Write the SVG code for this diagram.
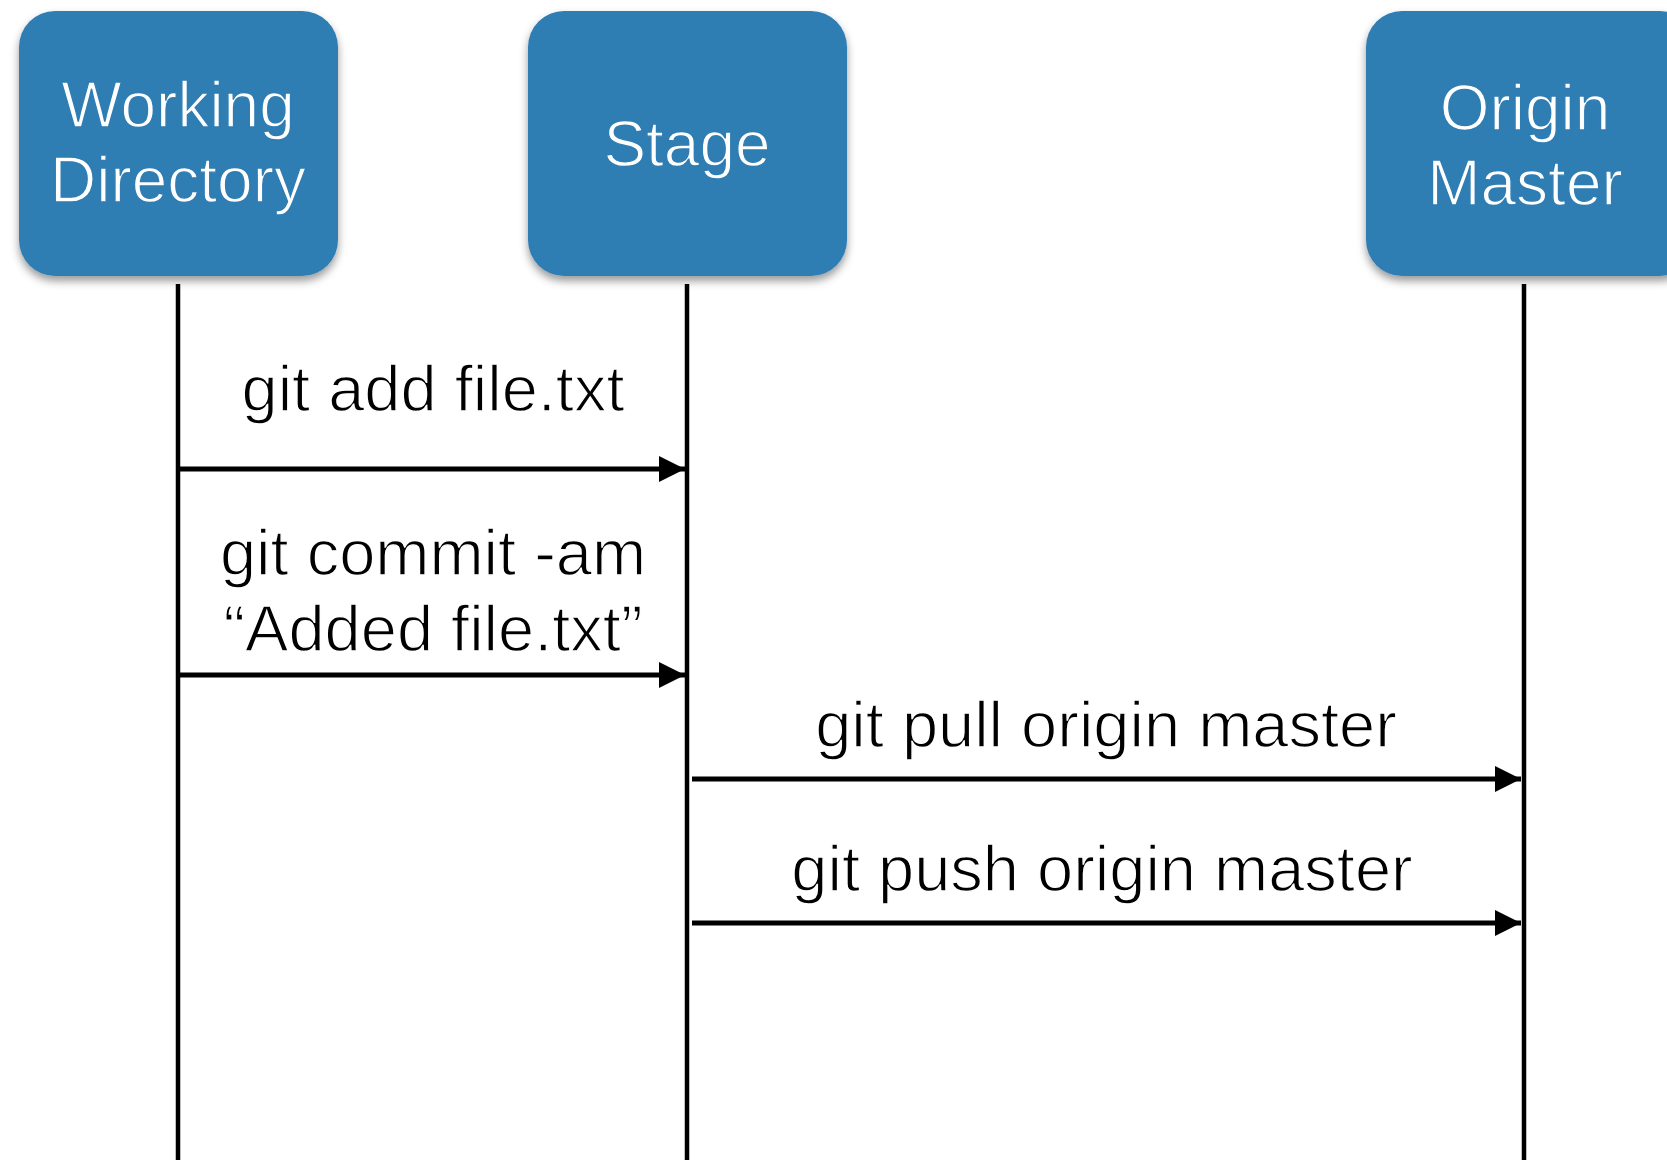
<svg xmlns="http://www.w3.org/2000/svg" width="1667" height="1160" viewBox="0 0 1667 1160">
<style>
.box{fill:#2f7db3;}
.bt{font-family:"Liberation Sans",Arial,sans-serif;font-size:64px;fill:#ffffff;text-anchor:middle;stroke:#2f7db3;stroke-width:1.4px;}
.lt{font-family:"Liberation Sans",Arial,sans-serif;font-size:65px;fill:#000000;text-anchor:middle;stroke:#ffffff;stroke-width:1.4px;}
.life{stroke:#000;stroke-width:4.5;fill:none;}
.msg{stroke:#000;stroke-width:5;fill:none;marker-end:url(#ah);}
</style>
<defs>
<marker id="ah" viewBox="0 0 26 26" refX="26" refY="13" markerWidth="26" markerHeight="26" markerUnits="userSpaceOnUse" orient="auto">
<path d="M0,0 L26,13 L0,26 Z" fill="#000"/>
</marker>
<filter id="sh" x="-10%" y="-10%" width="120%" height="130%">
<feDropShadow dx="0" dy="5" stdDeviation="4" flood-color="#000" flood-opacity="0.4"/>
</filter>
</defs>
<rect width="1667" height="1160" fill="#ffffff"/>
<g id="working-directory">
<rect class="box" x="19" y="11" width="319" height="265" rx="36" filter="url(#sh)"/>
<text class="bt" x="178" y="127">Working</text>
<text class="bt" x="178" y="202">Directory</text>
</g>
<g id="stage">
<rect class="box" x="528" y="11" width="319" height="265" rx="36" filter="url(#sh)"/>
<text class="bt" x="687" y="166">Stage</text>
</g>
<g id="origin-master">
<rect class="box" x="1366" y="11" width="330" height="265" rx="36" filter="url(#sh)"/>
<text class="bt" x="1525" y="130">Origin</text>
<text class="bt" x="1525" y="205">Master</text>
</g>
<g id="lifelines">
<line class="life" x1="178" y1="284" x2="178" y2="1160"/>
<line class="life" x1="687" y1="284" x2="687" y2="1160"/>
<line class="life" x1="1524" y1="284" x2="1524" y2="1160"/>
</g>
<g id="connectors">
<line class="msg" x1="180" y1="469" x2="685" y2="469"/>
<line class="msg" x1="180" y1="675" x2="685" y2="675"/>
<line class="msg" x1="692" y1="779" x2="1521" y2="779"/>
<line class="msg" x1="692" y1="923" x2="1521" y2="923"/>
</g>
<g id="labels">
<text class="lt" x="433" y="411">git add file.txt</text>
<text class="lt" x="433" y="575">git commit -am</text>
<text class="lt" x="433" y="651">“Added file.txt”</text>
<text class="lt" x="1106" y="747">git pull origin master</text>
<text class="lt" x="1102" y="891">git push origin master</text>
</g>
</svg>
